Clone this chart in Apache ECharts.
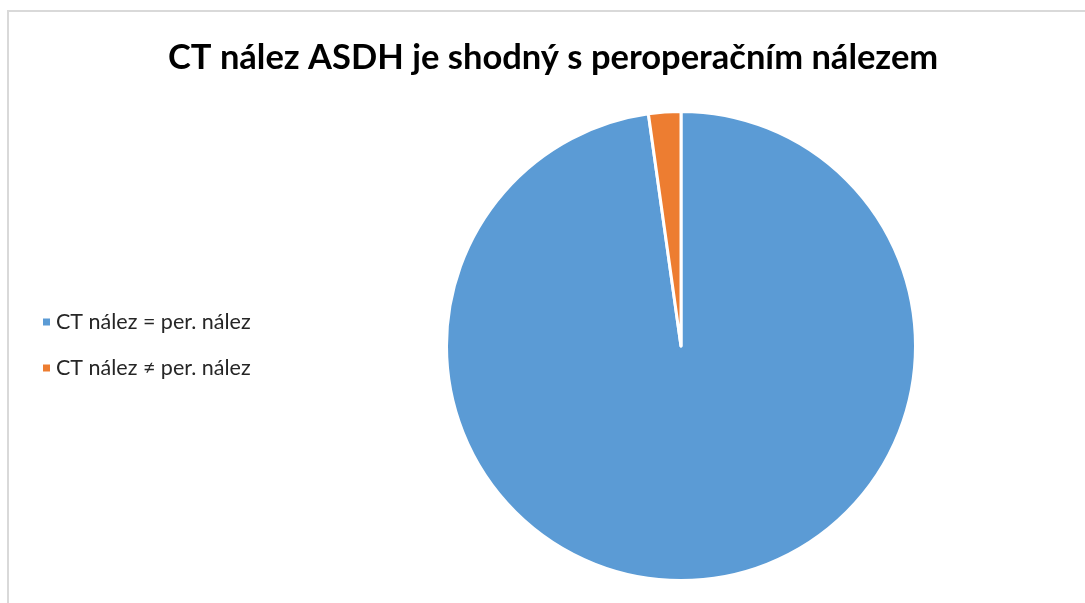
<!DOCTYPE html>
<html><head><meta charset="utf-8">
<script src="https://cdn.jsdelivr.net/npm/echarts@6/dist/echarts.min.js"></script>
<style>
html,body{margin:0;padding:0;background:#fff;}
#frame{position:absolute;left:7px;top:10px;width:1200px;height:700px;border:2px solid #d9d9d9;box-sizing:border-box;}
#c{position:absolute;left:0;top:0;width:1085px;height:603px;}
</style></head>
<body>
<div id="frame"></div>
<div id="c"></div>
<script>
const titleText = 'CT nález ASDH je shodný s peroperačním nálezem';
const categories = ['CT nález = per. nález', 'CT nález ≠ per. nález'];
const values = [44, 1];
const colors = ['#5b9bd5', '#ed7d31'];

const chart = echarts.init(document.getElementById('c'));
chart.setOption({
  animation: false,
  title: {
    text: titleText, left: 163, top: 35,
    textStyle: {fontFamily: 'Lato', fontWeight: 'bold', fontSize: 34.5, color: '#000'}
  },
  legend: {
    orient: 'vertical', left: 36, top: 306, itemGap: 24,
    icon: 'rect', itemWidth: 9, itemHeight: 9,
    textStyle: {fontFamily: 'Lato', fontSize: 21.5, color: '#262626'},
    data: categories
  },
  series: [{
    type: 'pie', center: [681, 346], radius: [0, 234.5],
    startAngle: 90, clockwise: true,
    label: {show: false}, labelLine: {show: false},
    itemStyle: {borderColor: '#fff', borderWidth: 3},
    data: categories.map((n, i) => ({name: n, value: values[i], itemStyle: {color: colors[i]}}))
  }]
});
</script>
</body></html>
